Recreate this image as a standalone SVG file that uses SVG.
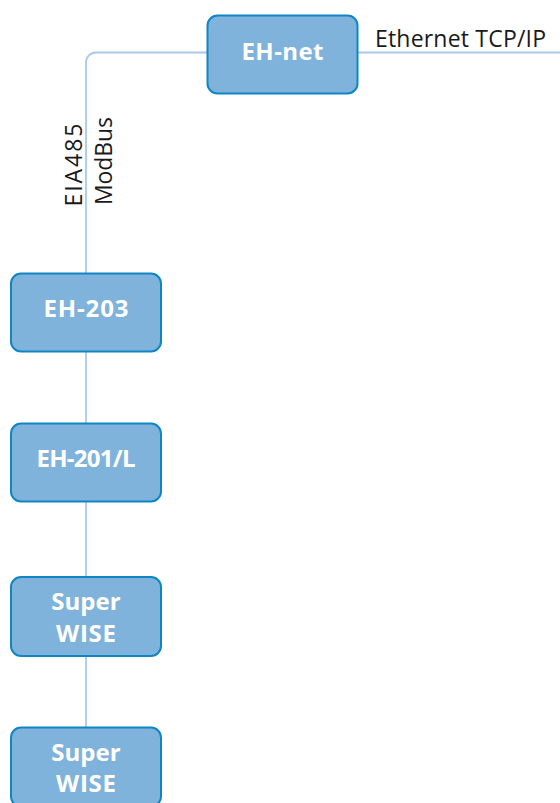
<svg xmlns="http://www.w3.org/2000/svg" width="560" height="803" viewBox="0 0 560 803">
  <style>
    .box { fill: #80b3db; stroke: #0f86c3; stroke-width: 2; }
    .lbl { font-family: "Open Sans", "Noto Sans", "Liberation Sans", sans-serif; font-weight: bold; font-size: 24px; fill: #ffffff; text-anchor: middle; }
    .txt { font-family: "Open Sans", "Noto Sans", "Liberation Sans", sans-serif; font-size: 23px; fill: #1a1a1a; }
    .conn { fill: none; stroke: #a9cae8; stroke-width: 1.8; }
  </style>
  <rect width="560" height="803" fill="#ffffff"/>
  <g id="connectors">
    <path class="conn" d="M560,52.5 H96 A10,10 0 0 0 86,62.5 V810"/>
  </g>
  <g id="label-ethernet">
    <text class="txt" x="375" y="47.3" textLength="171" lengthAdjust="spacing">Ethernet TCP/IP</text>
  </g>
  <g id="label-bus">
    <text class="txt" transform="translate(81.7,206.5) rotate(-90)" textLength="83" lengthAdjust="spacing">EIA485</text>
    <text class="txt" transform="translate(111.5,205) rotate(-90)" textLength="88" lengthAdjust="spacing">ModBus</text>
  </g>
  <g id="node-ehnet">
    <rect class="box" x="207.5" y="15.5" width="150" height="78" rx="10"/>
    <text class="lbl" x="282.5" y="60" textLength="82" lengthAdjust="spacing">EH-net</text>
  </g>
  <g id="node-eh203">
    <rect class="box" x="11" y="273.5" width="150" height="78" rx="10"/>
    <text class="lbl" x="86" y="316.8" textLength="85" lengthAdjust="spacing">EH-203</text>
  </g>
  <g id="node-eh201l">
    <rect class="box" x="11" y="423.5" width="150" height="78" rx="10"/>
    <text class="lbl" x="86" y="467.3" textLength="99" lengthAdjust="spacing">EH-201/L</text>
  </g>
  <g id="node-superwise1">
    <rect class="box" x="11" y="577" width="150" height="79" rx="10"/>
    <text class="lbl" x="86" y="610">Super</text>
    <text class="lbl" x="86" y="641.7" textLength="60" lengthAdjust="spacing">WISE</text>
  </g>
  <g id="node-superwise2">
    <rect class="box" x="11" y="727.5" width="150" height="79" rx="10"/>
    <text class="lbl" x="86" y="760.5">Super</text>
    <text class="lbl" x="86" y="792" textLength="60" lengthAdjust="spacing">WISE</text>
  </g>
</svg>
